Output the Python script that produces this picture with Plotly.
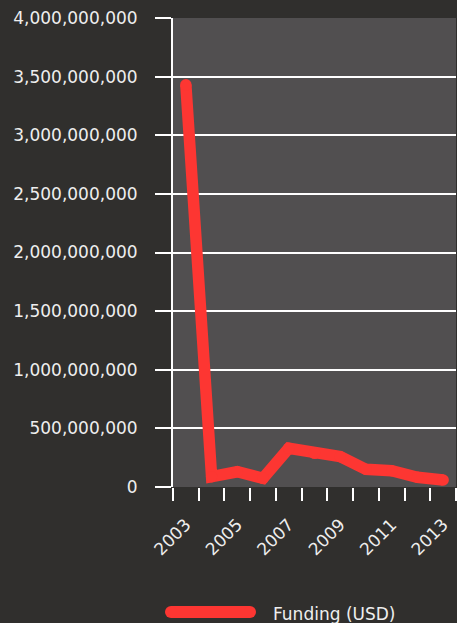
import plotly.graph_objects as go

# Annual funding, USD
years = [2003, 2004, 2005, 2006, 2007, 2008, 2009, 2010, 2011, 2012, 2013]
funding_usd = [3430000000, 88000000, 130000000, 74000000, 330000000, 287000000,
               259000000, 151000000, 139000000, 83000000, 60000000]

y_ticks = [0, 500000000, 1000000000, 1500000000, 2000000000, 2500000000,
           3000000000, 3500000000, 4000000000]
x_label_years = [2003, 2005, 2007, 2009, 2011, 2013]
series_name = "Funding (USD)"

BG = "#302f2d"
PLOT_BG = "#514f50"
RED = "#fd3632"
TEXT = "#eeeeee"
FONT = "DejaVu Sans"

fig = go.Figure()
fig.add_trace(go.Scatter(
    x=years, y=funding_usd, name=series_name,
    mode="lines+markers",
    line=dict(color=RED, width=11.5),
    marker=dict(color=RED, size=11.5, line=dict(width=0)),
    showlegend=False, hoverinfo="x+y",
))

# Hand-built legend entry: thick rounded bar plus label
L, R, T, B = 173, 1, 18, 136
pw, ph = 457 - L - R, 623 - T - B
def px(x):
    return (x - L) / pw
def py(y):
    return (T + ph - y) / ph

bar_y = py(612)
x_a, x_b = px(171), px(250)
shapes = [
    dict(type="line", xref="paper", yref="paper", x0=x_a, x1=x_b, y0=bar_y, y1=bar_y,
         line=dict(color=RED, width=12)),
]
for xc in (x_a, x_b):
    shapes.append(dict(type="circle", xref="paper", yref="paper",
                       xsizemode="pixel", ysizemode="pixel",
                       xanchor=xc, yanchor=bar_y, x0=-6, x1=6, y0=-6, y1=6,
                       fillcolor=RED, line=dict(width=0)))

fig.update_layout(
    width=457, height=623,
    margin=dict(l=L, r=R, t=T, b=B),
    paper_bgcolor=BG, plot_bgcolor=PLOT_BG,
    font=dict(family=FONT, size=17, color=TEXT),
    shapes=shapes,
    annotations=[dict(text=series_name, xref="paper", yref="paper",
                      x=px(271), y=py(614), xanchor="left", yanchor="middle",
                      showarrow=False, font=dict(family=FONT, size=17, color=TEXT))],
    xaxis=dict(
        range=[2002.5, 2013.5],
        tickvals=x_label_years, ticktext=[str(v) for v in x_label_years],
        tickangle=-45, ticks="outside", ticklen=13, tickcolor="rgba(0,0,0,0)",
        ticklabelstandoff=7,
        showgrid=False, zeroline=False, showline=False,
        tickfont=dict(family=FONT, size=17, color=TEXT),
        minor=dict(ticks="outside", tick0=2002.5, dtick=1, ticklen=13,
                   tickwidth=2, tickcolor="white", showgrid=False),
    ),
    yaxis=dict(
        range=[0, 4000000000],
        tickvals=y_ticks, tickformat=",",
        ticks="outside", ticklen=16, tickwidth=2, tickcolor="white",
        ticklabelstandoff=14,
        showgrid=True, gridcolor="white", gridwidth=2,
        zeroline=False, showline=True, linecolor="white", linewidth=2,
        tickfont=dict(family=FONT, size=17, color=TEXT),
    ),
)

fig.write_html("out.html")
